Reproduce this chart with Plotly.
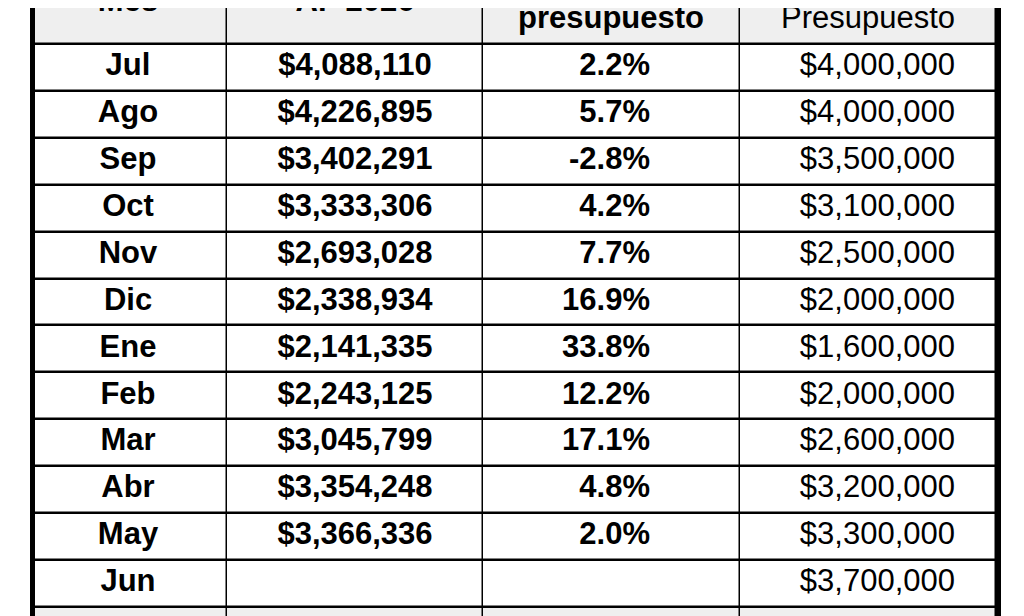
import plotly.graph_objects as go

months = ["Jul","Ago","Sep","Oct","Nov","Dic","Ene","Feb","Mar","Abr","May","Jun"]
actual = [4088110,4226895,3402291,3333306,2693028,2338934,2141335,2243125,3045799,3354248,3366336,None]
var_pct = [2.2,5.7,-2.8,4.2,7.7,16.9,33.8,12.2,17.1,4.8,2.0,None]
budget = [4000000,4000000,3500000,3100000,2500000,2000000,1600000,2000000,2600000,3200000,3300000,3700000]
headers = ["Mes","AF 2026","Var. vs<br>presupuesto","Monto<br>Presupuesto"]

col_edges = [35,227,483,740,996]
row_h = 46.9
top = 44
y_edges = [-70, top] + [top + row_h*(i+1) for i in range(len(months))] + [720]
z = [[1]*4] + [[0]*4 for _ in months] + [[1]*4]
fnt = "Liberation Sans, Arial, sans-serif"
fs = 31

fig = go.Figure()
fig.add_shape(type="rect", x0=30, x1=1001, y0=-80, y1=730, fillcolor="black", line_width=0, layer="below")
fig.add_trace(go.Heatmap(x=col_edges, y=y_edges, z=z, colorscale=[[0,"white"],[1,"#efefef"]],
                         showscale=False, xgap=1.5, ygap=2.5, hoverinfo="skip", zmin=0, zmax=1))
ys = [top + row_h*(i+0.5) for i in range(len(months))]
fmt = lambda v: "" if v is None else f"${v:,.0f}"
tf = dict(size=fs, color="black", family=fnt)
fig.add_trace(go.Scatter(x=[128]*len(months), y=ys, mode="text", text=[f"<b>{m}</b>" for m in months],
                         textposition="middle center", textfont=tf))
fig.add_trace(go.Scatter(x=[355]*len(months), y=ys, mode="text", text=[f"<b>{fmt(v)}</b>" for v in actual],
                         textposition="middle center", textfont=tf))
fig.add_trace(go.Scatter(x=[650]*len(months), y=ys, mode="text",
                         text=["" if v is None else f"<b>{v:.1f}%</b>" for v in var_pct],
                         textposition="middle left", textfont=tf))
fig.add_trace(go.Scatter(x=[955]*len(months), y=ys, mode="text", text=[fmt(v) for v in budget],
                         textposition="middle left", textfont=tf))
fig.add_trace(go.Scatter(x=[128,355], y=[3,3], mode="text", text=[f"<b>{h}</b>" for h in headers[:2]],
                         textposition="middle center", textfont=tf))
fig.add_trace(go.Scatter(x=[611,611], y=[-14,20], mode="text", text=["<b>Var. vs</b>","<b>presupuesto</b>"],
                         textposition="middle center", textfont=tf))
fig.add_trace(go.Scatter(x=[868,868], y=[-14,20], mode="text", text=["Monto","Presupuesto"],
                         textposition="middle center", textfont=tf))

fig.update_layout(width=1024, height=616, margin=dict(l=0,r=0,t=0,b=0), showlegend=False,
                  plot_bgcolor="white", paper_bgcolor="white",
                  xaxis=dict(range=[8,1032], visible=False, fixedrange=True),
                  yaxis=dict(range=[624,8], visible=False, fixedrange=True))
fig.write_html("out.html")
